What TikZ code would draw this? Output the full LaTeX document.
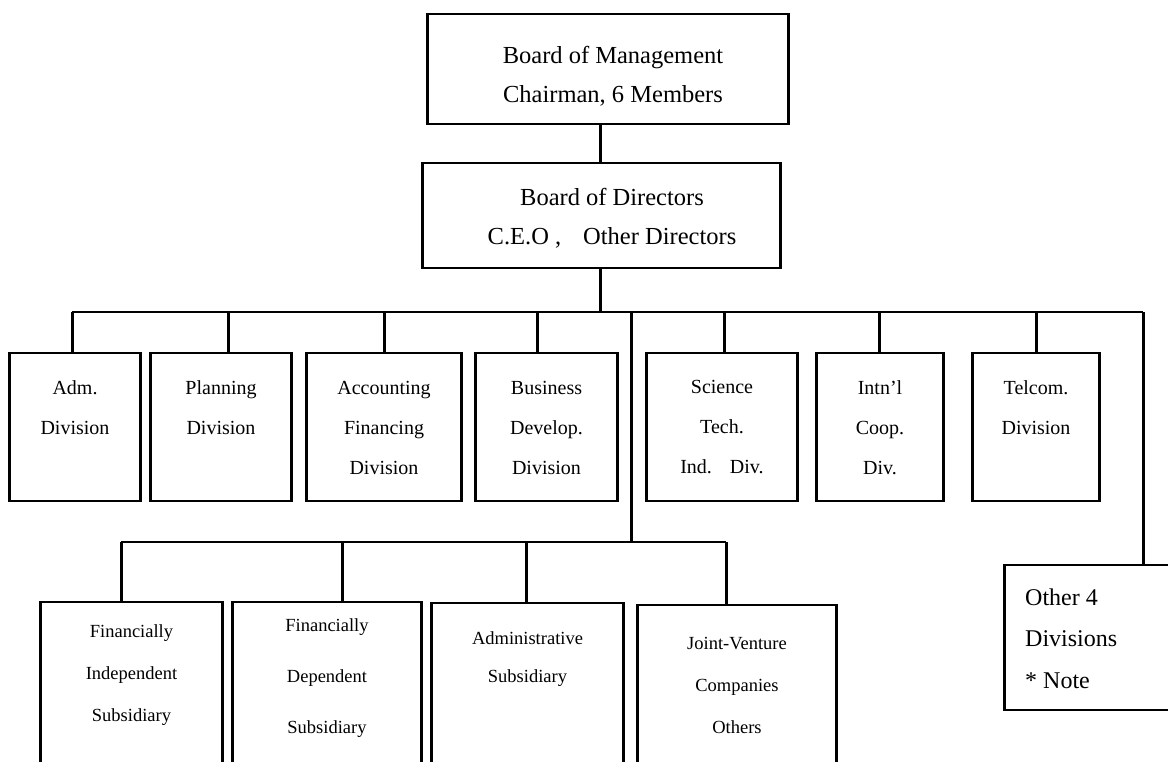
\documentclass[tikz,border=0pt]{standalone}
\usepackage{fontspec}
\setmainfont{Liberation Serif}
\begin{document}
\begin{tikzpicture}[x=1pt,y=-1pt,
  box/.style={draw, line width=1.5pt, inner sep=0pt},
  vside/.style={line width=3pt},
  hline/.style={line width=1.4pt},
  sline/.style={line width=2.2pt},
  vline/.style={line width=3pt},
  toptext/.style={font=\fontsize{24.5}{39}\selectfont, align=center, inner sep=0pt},
  divtext/.style={font=\fontsize{20}{40}\selectfont, align=center, inner sep=0pt},
  subtext/.style={font=\fontsize{18.5}{42}\selectfont, align=center, inner sep=0pt},
  othtext/.style={font=\fontsize{24}{41.5}\selectfont, align=left, inner sep=0pt}
]
\useasboundingbox (0,0) rectangle (1168,761);
\clip (0,0) rectangle (1168,761);

% boards
\node[box, minimum width=360pt, minimum height=110pt] (bom) at (608,69) {};
\node[box, minimum width=357pt, minimum height=105pt] (bod) at (601.5,215.5) {};

% divisions
\node[box, minimum width=130pt, minimum height=148pt] (adm)  at (75,427) {};
\node[box, minimum width=140pt, minimum height=148pt] (plan) at (221,427) {};
\node[box, minimum width=154pt, minimum height=148pt] (acc)  at (384,427) {};
\node[box, minimum width=141pt, minimum height=148pt] (biz)  at (546.5,427) {};
\node[box, minimum width=150pt, minimum height=148pt] (sci)  at (722,427) {};
\node[box, minimum width=126pt, minimum height=148pt] (intl) at (880,427) {};
\node[box, minimum width=126pt, minimum height=148pt] (tel)  at (1036,427) {};

% subsidiaries (running off the bottom edge)
\node[box, minimum width=181pt, minimum height=198pt] (fi)   at (131.5,701) {};
\node[box, minimum width=188pt, minimum height=198pt] (fd)   at (327,701) {};
\node[box, minimum width=191pt, minimum height=197pt] (adms) at (527.5,701.5) {};
\node[box, minimum width=198pt, minimum height=195pt] (jv)   at (737,702.5) {};

% other divisions (running off the right edge)
\node[box, minimum width=195pt, minimum height=145pt] (oth) at (1102.5,637.5) {};

% heavier vertical sides
\foreach \n in {bom,bod,adm,plan,acc,biz,sci,intl,tel,fi,fd,adms,jv,oth}
  \draw[vside] (\n.north west) -- (\n.south west) (\n.north east) -- (\n.south east);

% texts
\node[toptext] (tbom) at (613,76) {Board of Management\\Chairman, 6 Members};
\node[toptext] (tbod) at (612,218.5) {Board of Directors\\C.E.O ,\hspace{0.9em}Other Directors};

\node[divtext] (tadm)  at (75,407.5)  {Adm.\\Division};
\node[divtext] (tplan) at (221,407.5) {Planning\\Division};
\node[divtext] (tacc)  at (384,427.5) {Accounting\\Financing\\Division};
\node[divtext] (tbiz)  at (546.5,427.5) {Business\\Develop.\\Division};
\node[divtext] (tsci)  at (722,427.5) {Science\\Tech.\\Ind.\hspace{0.9em}Div.};
\node[divtext] (tintl) at (880,427.5) {Intn'l\\Coop.\\Div.};
\node[divtext] (ttel)  at (1036,407.5) {Telcom.\\Division};

\node[subtext] (tfi) at (131.5,675.5) {Financially\\Independent\\Subsidiary};
\node[subtext, font=\fontsize{18.5}{51}\selectfont] (tfd) at (327,678) {Financially\\Dependent\\Subsidiary};
\node[subtext, font=\fontsize{18.5}{38}\selectfont] (tadms) at (527.5,659) {Administrative\\Subsidiary};
\node[subtext, font=\fontsize{18.5}{42}\selectfont] (tjv) at (737,685) {Joint-Venture\\Companies\\Others};

\node[othtext, anchor=west] (toth) at (1025,638.5) {Other 4\\Divisions\\* Note};

% connectors
\coordinate (jb) at (600,312);
\draw[vline] (bom.south -| jb) -- (bod.north -| jb);
\draw[vline] (bod.south -| jb) -- (jb);

\coordinate (bl) at (72,312);
\coordinate (br) at (1143,312);
\draw[hline] (bl) -- (br);
\foreach \n/\x in {adm/72, plan/228, acc/384, biz/537, sci/724, intl/879, tel/1036} {
  \coordinate (d\n) at (\x,312);
  \draw[vline] (d\n) -- (d\n |- \n.north);
}
\draw[vline] (br) -- (br |- oth.north);

\coordinate (js) at (631,312);
\coordinate (ks) at (631,542);
\draw[vline] (js) -- (ks);
\coordinate (sl) at (121,542);
\coordinate (sr) at (726,542);
\draw[sline] (sl) -- (sr);
\foreach \n/\x in {fi/121, fd/342, adms/526, jv/726} {
  \coordinate (s\n) at (\x,542);
  \draw[vline] (s\n) -- (s\n |- \n.north);
}
\end{tikzpicture}
\end{document}
